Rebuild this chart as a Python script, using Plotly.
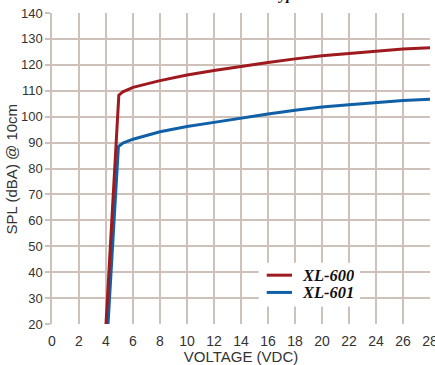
import plotly.graph_objects as go

# Data
xl600_v = [4.0, 4.95, 5.25, 6, 8, 10, 12, 14, 16, 18, 20, 22, 24, 26, 28]
xl600_spl = [20, 108.3, 109.6, 111.3, 113.9, 116.1, 117.8, 119.4, 120.9, 122.3, 123.5, 124.4, 125.3, 126.1, 126.6]
xl601_v = [4.15, 4.92, 5.25, 6, 8, 10, 12, 14, 16, 18, 20, 22, 24, 26, 28]
xl601_spl = [20, 88.5, 89.8, 91.3, 94.2, 96.2, 97.8, 99.5, 101.0, 102.5, 103.7, 104.6, 105.4, 106.2, 106.7]

series_names = ["XL-600", "XL-601"]
series_colors = ["#9e1a1e", "#1060a8"]

x_ticks = list(range(0, 29, 2))
y_ticks = list(range(20, 141, 10))

GRID = "#cdc1ba"
TXT = "#333333"
LEG_FONT = dict(family="Liberation Serif, serif", size=16.5, color="#111111",
                weight="bold", style="italic")

fig = go.Figure()
fig.add_trace(go.Scatter(x=xl601_v, y=xl601_spl, mode="lines", name=series_names[1],
                         line=dict(color=series_colors[1], width=3)))
fig.add_trace(go.Scatter(x=xl600_v, y=xl600_spl, mode="lines", name=series_names[0],
                         line=dict(color=series_colors[0], width=3)))

# Legend box (drawn manually for exact spacing)
shapes = [dict(type="rect", xref="paper", yref="paper", x0=0.547, x1=0.815,
               y0=0.056, y1=0.197, fillcolor="white", line=dict(width=0), layer="above")]
annotations = []
for name, color, yy in zip(series_names, series_colors, [0.157, 0.1015]):
    shapes.append(dict(type="line", xref="paper", yref="paper", x0=0.568, x1=0.635,
                       y0=yy, y1=yy, line=dict(color=color, width=3), layer="above"))
    annotations.append(dict(text=name, xref="paper", yref="paper", x=0.655, y=yy,
                            xanchor="left", yanchor="middle", showarrow=False,
                            height=17, font=LEG_FONT))
annotations.append(dict(
    text="Typical", xref="paper", yref="paper", x=0.64, y=1.026,
    xanchor="center", yanchor="bottom", showarrow=False,
    font=dict(family="Liberation Serif, serif", size=15, color="#111111",
              weight="bold", style="italic"),
))
# Y-axis title
annotations.append(dict(
    text="SPL (dBA) @ 10cm", xref="paper", yref="paper", x=-0.106, y=0.5,
    xanchor="center", yanchor="middle", textangle=-90, showarrow=False,
    font=dict(family="Liberation Sans, Arial, sans-serif", size=15, color=TXT),
))

fig.update_layout(
    width=435, height=365,
    margin=dict(l=52, r=5, t=13, b=41, autoexpand=False),
    paper_bgcolor="white", plot_bgcolor="white",
    font=dict(family="Liberation Sans, Arial, sans-serif", size=13, color=TXT),
    showlegend=False,
    xaxis=dict(
        range=[0, 28], tickvals=x_ticks, ticktext=[str(v) for v in x_ticks],
        showgrid=True, gridcolor=GRID, gridwidth=1.5,
        zeroline=False, showline=False,
        ticks="outside", ticklen=4, tickcolor="rgba(0,0,0,0)",
        ticklabeloverflow="allow",
        title=dict(text="VOLTAGE (VDC)", font=dict(size=15), standoff=4),
        tickfont=dict(size=14), fixedrange=True, automargin=False,
    ),
    yaxis=dict(
        range=[20, 140], tickvals=y_ticks,
        showgrid=True, gridcolor=GRID, gridwidth=1.5,
        zeroline=False, showline=True, linecolor=GRID, linewidth=1.5,
        ticks="outside", ticklen=5, tickcolor=GRID, tickwidth=1.5,
        tickfont=dict(size=13), fixedrange=True, automargin=False,
    ),
    shapes=shapes,
    annotations=annotations,
)

fig.write_html("out.html", config={"displayModeBar": False},
               post_script="document.body.style.margin='0';")
